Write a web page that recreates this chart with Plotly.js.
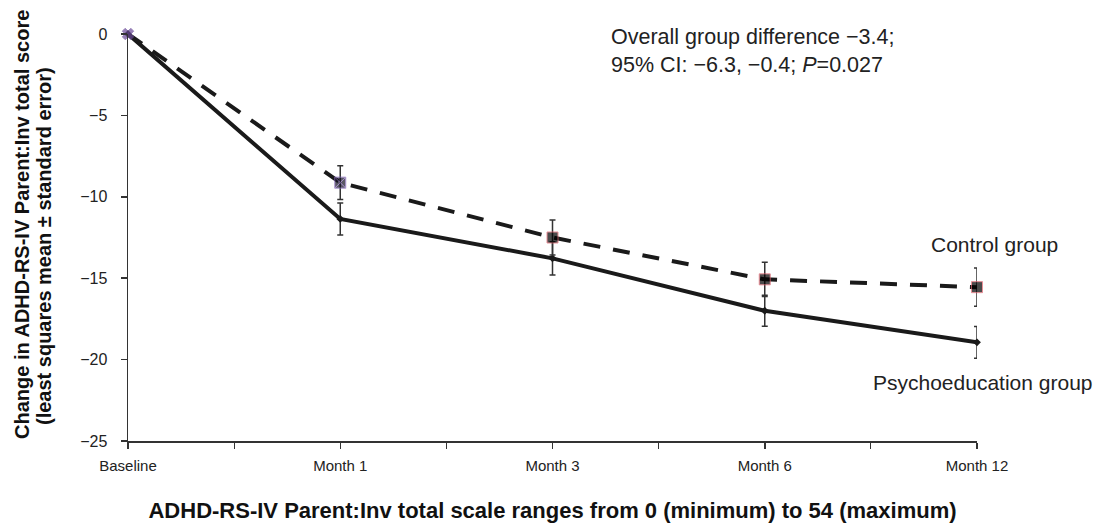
<!DOCTYPE html>
<html>
<head>
<meta charset="utf-8">
<script src="https://cdn.plot.ly/plotly-3.0.1.min.js"></script>
<style>html,body{margin:0;padding:0;background:#fff;}#chart{width:1101px;height:529px;}</style>
</head>
<body>
<div id="chart"></div>
<script>
var categories = ["Baseline", "Month 1", "Month 3", "Month 6", "Month 12"];
var controlMean = [0, -9.13, -12.5, -15.07, -15.55];
var controlSE = [0, 1.03, 1.08, 1.05, 1.17];
var psychoMean = [0, -11.36, -13.78, -17.0, -18.94];
var psychoSE = [0, 0.98, 1.02, 0.95, 0.98];
var yTickVals = [0, -5, -10, -15, -20, -25];
var yTickText = ["0", "\u22125", "\u221210", "\u221215", "\u221220", "\u221225"];
var yTitleLines = ["Change in ADHD-RS-IV Parent:Inv total score", "(least squares mean \u00b1 standard error)"];

var xIdx = categories.map(function (c, i) { return i; });
var FONT = "Liberation Sans, Arial, sans-serif";

var psycho = {
  x: xIdx, y: psychoMean, type: "scatter", mode: "lines+markers",
  line: {color: "#1a1a1a", width: 4},
  marker: {symbol: "diamond", size: 6, color: "#1a1a1a"},
  error_y: {type: "data", array: psychoSE, visible: true, color: "#333", thickness: 1.5, width: 3},
  cliponaxis: false, hoverinfo: "none", showlegend: false
};
var control = {
  x: xIdx, y: controlMean, type: "scatter", mode: "lines+markers",
  line: {color: "#1a1a1a", width: 4, dash: "17px,13px"},
  marker: {
    symbol: ["x", "square-x", "square", "square", "square"],
    size: [10, 11, 11, 11, 11],
    color: ["#6a4a98", "#151225", "#000000", "#000000", "#000000"],
    line: {color: ["#6a4a98", "#8a6bc0", "#e0606c", "#e0606c", "#e0606c"], width: 1}
  },
  error_y: {type: "data", array: controlSE, visible: true, color: "#333", thickness: 1.5, width: 3},
  cliponaxis: false, hoverinfo: "none", showlegend: false
};

var layout = {
  width: 1101, height: 529,
  margin: {l: 128, r: 124, t: 34, b: 88},
  paper_bgcolor: "#fff", plot_bgcolor: "#fff",
  font: {family: FONT, color: "#222"},
  showlegend: false,
  xaxis: {
    range: [0, 4], tickvals: xIdx, ticktext: categories,
    showgrid: false, zeroline: false, showline: true, linecolor: "#333", linewidth: 1.5,
    ticks: "outside", ticklen: 6, tickwidth: 1.5, tickcolor: "#333",
    minor: {dtick: 0.5, tick0: 0, ticks: "outside", ticklen: 6, tickwidth: 1.2, tickcolor: "#333", showgrid: false},
    tickfont: {size: 15, color: "#222"}, ticklabelstandoff: 4,
    title: {text: "<b>ADHD-RS-IV Parent:Inv total scale ranges from 0 (minimum) to 54 (maximum)</b>", font: {size: 22, color: "#111"}, standoff: 30}
  },
  yaxis: {
    range: [-25, 0], tickvals: yTickVals, ticktext: yTickText,
    showgrid: false, zeroline: false, showline: true, linecolor: "#333", linewidth: 1.5,
    ticks: "outside", ticklen: 6, tickwidth: 1.5, tickcolor: "#333",
    tickfont: {size: 16, color: "#222"}, ticklabelstandoff: 10
  },
  annotations: [
    {xref: "paper", yref: "paper", x: (22 - 128) / 849, y: (441 - 225) / 407, xanchor: "center", yanchor: "middle",
     textangle: -90, showarrow: false, text: "<b>" + yTitleLines[0] + "</b>", font: {size: 20, color: "#111"}},
    {xref: "paper", yref: "paper", x: (44 - 128) / 849, y: (441 - 246) / 407, xanchor: "center", yanchor: "middle",
     textangle: -90, showarrow: false, text: "<b>" + yTitleLines[1] + "</b>", font: {size: 20, color: "#111"}},
    {xref: "paper", yref: "paper", x: 0.566, y: 1.028, xanchor: "left", yanchor: "top", align: "left", showarrow: false,
     text: "Overall group difference \u22123.4;<br>95% CI: \u22126.3, \u22120.4; <i>P</i>=0.027", font: {size: 21.5, color: "#222"}},
    {xref: "paper", yref: "y", x: 1.021, y: -12.96, xanchor: "center", yanchor: "middle", showarrow: false,
     text: "Control group", font: {size: 21, color: "#222"}},
    {xref: "paper", yref: "y", x: 1.007, y: -21.4, xanchor: "center", yanchor: "middle", showarrow: false,
     text: "Psychoeducation group", font: {size: 21, color: "#222"}}
  ]
};

Plotly.newPlot("chart", [psycho, control], layout, {displayModeBar: false, staticPlot: true});
</script>
</body>
</html>
